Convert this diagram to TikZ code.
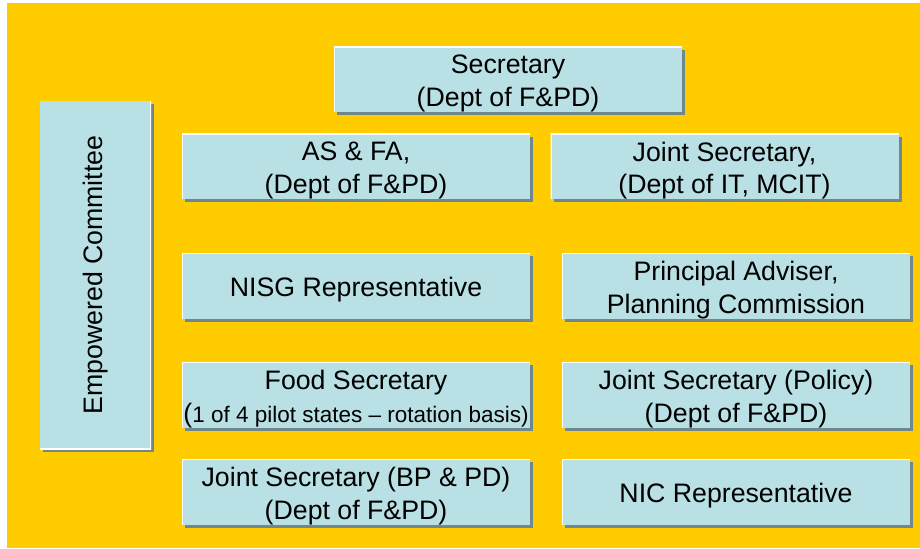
\documentclass[tikz,border=0pt]{standalone}
\usepackage{fontspec}
\setmainfont{Liberation Sans}
\usetikzlibrary{shadows}
\definecolor{bgyellow}{RGB}{255,204,0}
\definecolor{boxblue}{RGB}{185,224,228}
\definecolor{shadowgray}{RGB}{110,136,142}
\begin{document}
\begin{tikzpicture}[
  box/.style={fill=boxblue, inner sep=0pt,
    minimum width=6.96cm, minimum height=1.31cm,
    drop shadow={shadow xshift=0.06cm, shadow yshift=-0.06cm, fill=shadowgray, opacity=1},
    path picture={\draw[white, line width=1.2pt] (path picture bounding box.south west)
      |- (path picture bounding box.north east);}},
  membertext/.style={align=center, inner sep=0pt, yshift=-0.08cm,
    font=\fontsize{15.2}{18.4}\selectfont},
  member/.style={box, label={[membertext]center:{#1}}}
]
\useasboundingbox (0,0) rectangle (18.4,10.96);
\fill[bgyellow] (0.14,0) rectangle (18.4,10.9);

\node[box, minimum width=6.96cm, minimum height=2.22cm, rotate=90,
  font=\fontsize{15.2}{18.4}\selectfont] (emp) at (1.91,5.46) {Empowered Committee};

\node[member={Secretary\\(Dept of F\&PD)}] (sec) at (10.16,9.37) {};

\node[member={AS \& FA,\\(Dept of F\&PD)}] (asfa) at (7.12,7.63) {};
\node[member={Joint Secretary,\\(Dept of IT, MCIT)}] (jsit) at (14.49,7.63) {};

\node[member={NISG Representative}] (nisg) at (7.12,5.24) {};
\node[member={Principal Adviser,\\Planning Commission}] (padv) at (14.72,5.24) {};

\node[member={Food Secretary\\({\fontsize{12.8}{18.4}\selectfont 1 of 4 pilot states -- rotation basis)}}] (food) at (7.12,3.06) {};
\node[member={Joint Secretary (Policy)\\(Dept of F\&PD)}] (jspol) at (14.72,3.06) {};

\node[member={Joint Secretary (BP \& PD)\\(Dept of F\&PD)}] (jsbp) at (7.12,1.12) {};
\node[member={NIC Representative}] (nic) at (14.72,1.12) {};
\end{tikzpicture}
\end{document}
